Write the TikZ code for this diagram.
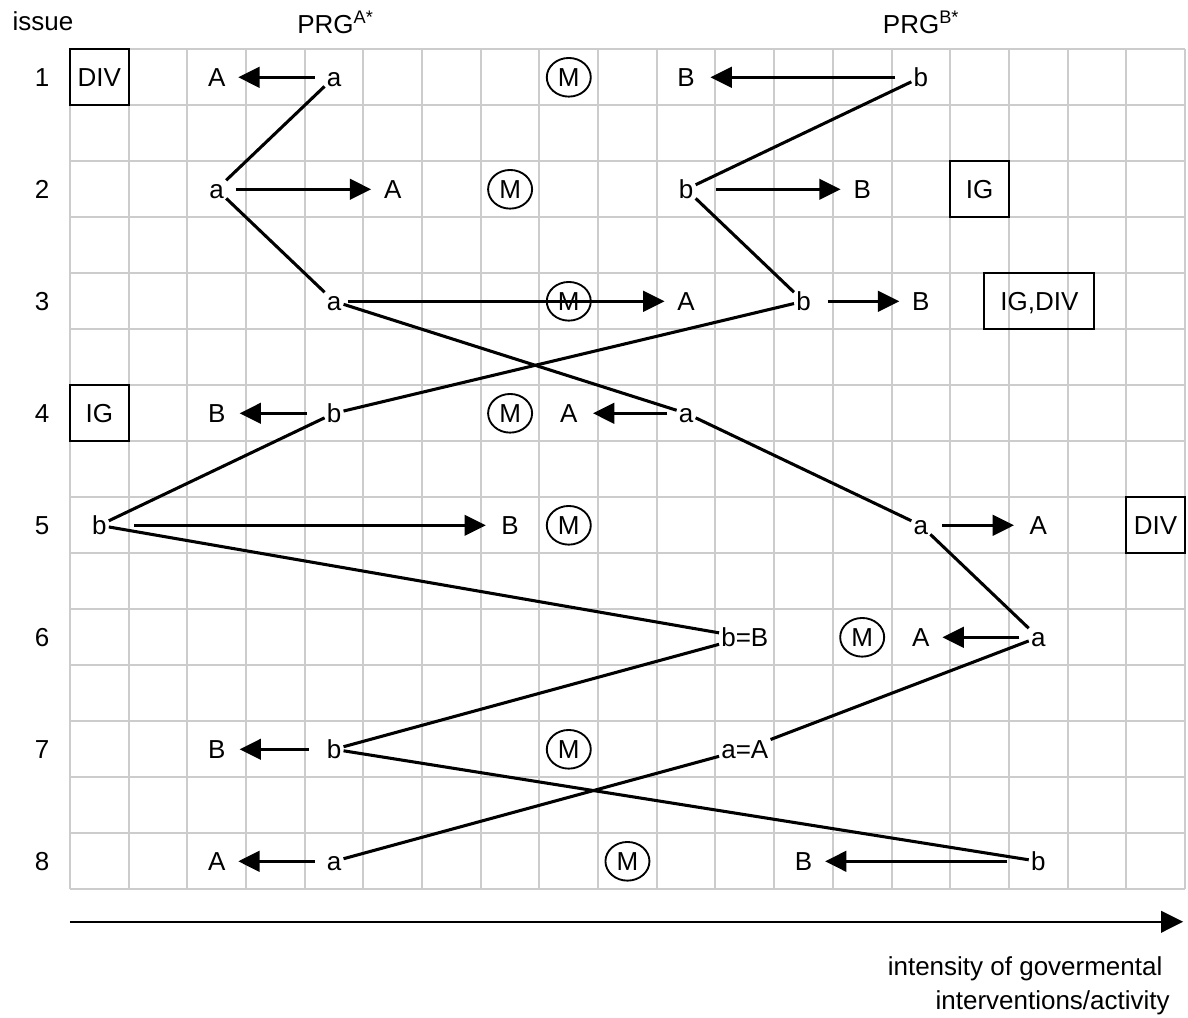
\documentclass[tikz,border=0pt]{standalone}
\usepackage{fontspec}
\setmainfont{Liberation Sans}
\usepackage{tikz}
\usetikzlibrary{shapes.geometric, arrows.meta, calc}

\begin{document}
\begin{tikzpicture}[x = 44.01pt, y = -42pt,
    font = \fontsize{19.5pt}{25.5pt}\selectfont,
    lett/.style = {inner sep = 1.5pt, text height = 14pt, text depth = 0pt},
    casella/.style = {draw, line width = 1.5pt, minimum width = 44pt, minimum height = 42pt, inner sep = 0pt, text height = 14pt, text depth = 0pt},
    emme/.style = {ellipse, draw, line width = 1.4pt, minimum width = 33pt, minimum height = 29pt, inner sep = 0pt, text height = 14pt, text depth = 0pt},
    freccia/.style = {-{Triangle[length = 16pt, width = 15.5pt]}, line width = 1.9pt, shorten <= 7pt, shorten >= 8pt},
    legame/.style = {line width = 2.3pt}]
    % Parametri
    \pgfmathsetmacro{\colonne}{19}
    \pgfmathsetmacro{\righe}{15}
    \useasboundingbox (-1.1929,-0.8804) rectangle (19.0525,17.2804);
    % Griglia
    \draw[gray!40, line width = 1.5pt, xstep = 44.01pt, ystep = 42pt] (0,0) grid (\colonne,\righe);
    % Intestazioni
    \node[anchor = base, inner sep = 0pt] (issue) at (-0.46,-0.33) {issue};
    \node[anchor = base west, inner sep = 0pt] (prgA) at (3.87,-0.29) {PRG\textsuperscript{A*}};
    \node[anchor = base west, inner sep = 0pt] (prgB) at (13.85,-0.29) {PRG\textsuperscript{B*}};
    \foreach \i in {1,...,8} {
        \node[lett] (n\i) at (-0.477,{2*\i-1.5}) {\i};
    };
    \foreach \c/\r in {8.5/1, 7.5/2, 8.5/3, 7.5/4, 8.5/5, 13.5/6, 8.5/7, 9.5/8} {
        \node[emme] (M\r) at (\c,{2*\r-1.5}) {M};
    };
    % Issue 1
    \node[casella] (div1) at (0.5,0.5) {DIV};
    \node[lett] (A1) at (2.5,0.5) {A};
    \node[lett] (a1) at (4.5,0.5) {a};
    \node[lett] (B1) at (10.5,0.5) {B};
    \node[lett] (b1) at (14.5,0.5) {b};
    % Issue 2
    \node[lett] (a2) at (2.5,2.5) {a};
    \node[lett] (A2) at (5.5,2.5) {A};
    \node[lett] (b2) at (10.5,2.5) {b};
    \node[lett] (B2) at (13.5,2.5) {B};
    \node[casella] (ig2) at (15.5,2.5) {IG};
    % Issue 3
    \node[lett] (a3) at (4.5,4.5) {a};
    \node[lett] (A3) at (10.5,4.5) {A};
    \node[lett] (b3) at (12.5,4.5) {b};
    \node[lett] (B3) at (14.5,4.5) {B};
    \node[casella, minimum width = 82.5pt] (igdiv3) at (16.52,4.5) {IG,DIV};
    % Issue 4
    \node[casella] (ig4) at (0.5,6.5) {IG};
    \node[lett] (B4) at (2.5,6.5) {B};
    \node[lett] (b4) at (4.5,6.5) {b};
    \node[lett] (A4) at (8.5,6.5) {A};
    \node[lett] (a4) at (10.5,6.5) {a};
    % Issue 5
    \node[lett] (b5) at (0.5,8.5) {b};
    \node[lett] (B5) at (7.5,8.5) {B};
    \node[lett] (a5) at (14.5,8.5) {a};
    \node[lett] (A5) at (16.5,8.5) {A};
    \node[casella] (div5) at (18.5,8.5) {DIV};
    % Issue 6
    \node[lett] (bB6) at (11.5,10.5) {b=B};
    \node[lett] (A6) at (14.5,10.5) {A};
    \node[lett] (a6) at (16.5,10.5) {a};
    % Issue 7
    \node[lett] (B7) at (2.5,12.5) {B};
    \node[lett] (b7) at (4.5,12.5) {b};
    \node[lett] (aA7) at (11.5,12.5) {a=A};
    % Issue 8
    \node[lett] (A8) at (2.5,14.5) {A};
    \node[lett] (a8) at (4.5,14.5) {a};
    \node[lett] (B8) at (12.5,14.5) {B};
    \node[lett] (b8) at (16.5,14.5) {b};
    % Percorsi
    \draw[legame] (a1) -- (a2) -- (a3) -- (a4) -- (a5) -- (a6) -- (aA7) -- (a8);
    \draw[legame] (b1) -- (b2) -- (b3) -- (b4) -- (b5) -- (bB6) -- (b7) -- (b8);
    % Frecce
    \draw[freccia] (a1) -- (A1);
    \draw[freccia] (a2) -- (A2);
    \draw[freccia, shorten <= 3pt] (a3) -- (A3);
    \draw[freccia, shorten >= 10pt] (a4) -- (A4);
    \draw[freccia, shorten >= 10pt, shorten <= 9pt] (a5) -- (A5);
    \draw[freccia] (a6) -- (A6);
    \draw[freccia] (a8) -- (A8);
    \draw[freccia, shorten <= 12pt, shorten >= 10pt] (b1) -- (B1);
    \draw[freccia, shorten <= 15.5pt] (b2) -- (B2);
    \draw[freccia, shorten <= 11pt] (b3) -- (B3);
    \draw[freccia, shorten <= 13pt, shorten >= 9pt] (b4) -- (B4);
    \draw[freccia, shorten <= 19pt, shorten >= 10pt] (b5) -- (B5);
    \draw[freccia, shorten <= 12pt, shorten >= 9pt] (b7) -- (B7);
    \draw[freccia, shorten <= 16pt] (b8) -- (B8);
    % Asse
    \coordinate (asse0) at (0,15.58);
    \coordinate (asse1) at (18.97,15.58);
    \draw[-{Triangle[length = 16.5pt, width = 16pt]}, line width = 1.9pt] (asse0) -- (asse1);
    \node[anchor = base east, align = right, inner sep = 0pt] (asse) at (18.745,17.155) {intensity of govermental\hspace*{0.28em}\\interventions/activity};
\end{tikzpicture}
\end{document}
